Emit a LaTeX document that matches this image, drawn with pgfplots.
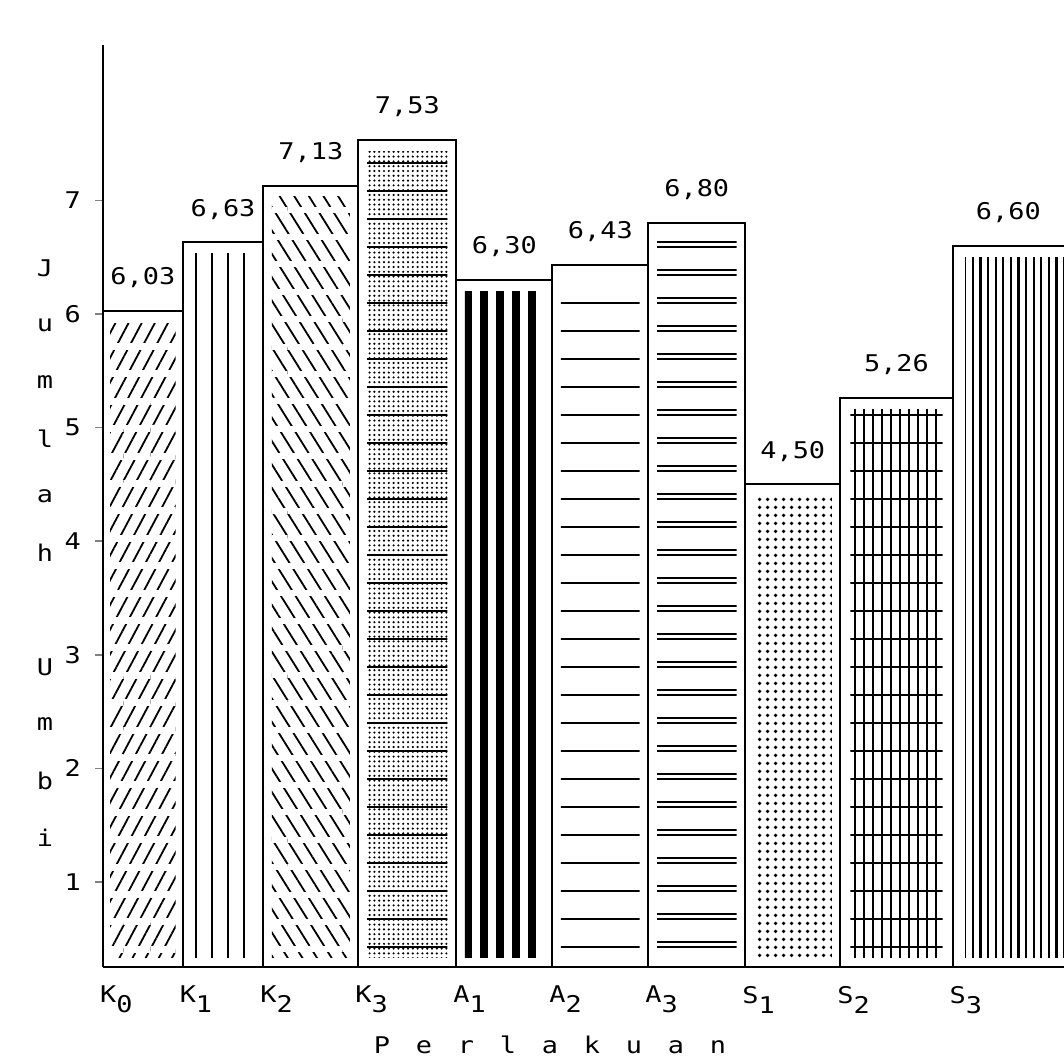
\documentclass[border=0pt]{standalone}
\usepackage{fontspec}
\setmainfont{DejaVu Sans Mono}[FakeStretch=1.17]
\usepackage{pgfplots}
\pgfplotsset{compat=1.18}
\usetikzlibrary{patterns.meta}
\newcommand{\sub}[1]{\raisebox{-5pt}{#1}}
\pgfplotsset{
  pat/.style={ybar interval, draw=none, bar interval width=0.82, bar interval shift=0.5, y filter/.expression={y-0.1}},
  outl/.style={ybar interval, draw=black, fill=none, line width=1pt},
}
\begin{document}
\begin{tikzpicture}[font=\fontsize{11.5}{13}\selectfont]
\path[use as bounding box] (0,0) rectangle (532pt,529.5pt);
\begin{axis}[
  at={(51.5pt,46pt)}, anchor=south west,
  width=480.5pt, height=461pt, scale only axis,
  xmin=0, xmax=10.01, ymin=0.252, ymax=8.368,
  axis x line=bottom, axis y line=left, axis on top,
  axis line style={-, line width=1.1pt},
  ytick={1,2,3,4,5,6,7},
  tick align=outside, major tick length=4pt,
  ytick style={line width=0.8pt},
  xtick={0,0.83,1.67,2.66,3.68,4.68,5.68,6.69,7.68,8.85},
  xticklabels={K\sub{0},K\sub{1},K\sub{2},K\sub{3},A\sub{1},A\sub{2},A\sub{3},S\sub{1},S\sub{2},S\sub{3}},
  xtick style={draw=none},
  xticklabel style={anchor=north west, xshift=-5pt, yshift=-2pt},
  yticklabel style={xshift=-3.5pt},
  /pgf/number format/assume math mode=true,
]
% ---- fill patterns (inset) ----
\addplot[pat, pattern={Lines[angle=62,distance=5.8pt,line width=0.9pt]}, postaction={pattern={Lines[angle=0,distance=13.7pt,line width=3.5pt]}, pattern color=white}] coordinates {(0,6.03) (0.83,6.03)};
\addplot[pat, pattern={Lines[angle=90,distance=8pt,line width=1pt,xshift=2pt]}] coordinates {(0.83,6.63) (1.67,6.63)};
\addplot[pat, pattern={Lines[angle=-58,distance=6.2pt,line width=0.9pt]}, postaction={pattern={Lines[angle=0,distance=13.7pt,line width=3pt]}, pattern color=white}] coordinates {(1.67,7.13) (2.66,7.13)};
\addplot[pat, pattern={Dots[distance=2.4pt,radius=0.6pt]}, postaction={pattern={Lines[angle=0,distance=14pt,line width=1.4pt]}}] coordinates {(2.66,7.53) (3.68,7.53)};
\addplot[pat, pattern={Lines[angle=90,distance=8pt,line width=4.3pt,xshift=2pt]}] coordinates {(3.68,6.30) (4.68,6.30)};
\addplot[pat, pattern={Lines[angle=0,distance=14pt,line width=0.8pt]}] coordinates {(4.68,6.43) (5.68,6.43)};
\addplot[pat, pattern={Lines[angle=0,distance=14pt,line width=0.8pt]}, postaction={pattern={Lines[angle=0,distance=14pt,line width=0.8pt,yshift=2.5pt]}}] coordinates {(5.68,6.80) (6.69,6.80)};
\addplot[pat, pattern={Dots[distance=4pt,radius=1.05pt]}] coordinates {(6.69,4.50) (7.68,4.50)};
\addplot[pat, pattern={Lines[angle=90,distance=4.5pt,line width=1.2pt]}, postaction={pattern={Lines[angle=0,distance=14pt,line width=1.1pt]}}] coordinates {(7.68,5.26) (8.85,5.26)};
\addplot[pat, pattern={Lines[angle=90,distance=3.8pt,line width=1.1pt]}] coordinates {(8.85,6.60) (10.3,6.60)};
% white margin along the base
\fill[white] (axis cs:0,0.2) rectangle (axis cs:10.5,0.33);
% ---- bar outlines ----
\addplot[outl] coordinates {(0,6.03) (0.83,6.03)};
\addplot[outl] coordinates {(0.83,6.63) (1.67,6.63)};
\addplot[outl] coordinates {(1.67,7.13) (2.66,7.13)};
\addplot[outl] coordinates {(2.66,7.53) (3.68,7.53)};
\addplot[outl] coordinates {(3.68,6.30) (4.68,6.30)};
\addplot[outl] coordinates {(4.68,6.43) (5.68,6.43)};
\addplot[outl] coordinates {(5.68,6.80) (6.69,6.80)};
\addplot[outl] coordinates {(6.69,4.50) (7.68,4.50)};
\addplot[outl] coordinates {(7.68,5.26) (8.85,5.26)};
\addplot[outl] coordinates {(8.85,6.60) (10.3,6.60)};

\node[anchor=south, yshift=8pt] at (axis cs:0.415,6.03) {6,03};
\node[anchor=south, yshift=8pt] at (axis cs:1.25,6.63) {6,63};
\node[anchor=south, yshift=8pt] at (axis cs:2.165,7.13) {7,13};
\node[anchor=south, yshift=8pt] at (axis cs:3.17,7.53) {7,53};
\node[anchor=south, yshift=8pt] at (axis cs:4.18,6.30) {6,30};
\node[anchor=south, yshift=8pt] at (axis cs:5.18,6.43) {6,43};
\node[anchor=south, yshift=8pt] at (axis cs:6.185,6.80) {6,80};
\node[anchor=south, yshift=8pt] at (axis cs:7.185,4.50) {4,50};
\node[anchor=south, yshift=8pt] at (axis cs:8.265,5.26) {5,26};
\node[anchor=south, yshift=8pt] at (axis cs:9.43,6.60) {6,60};
\end{axis}
\foreach \l [count=\i] in {J,u,m,l,a,h,{},U,m,b,i}
  \node at (22.5pt, {395.5pt - (\i-1)*28.5pt}) {\l};
\node at (275pt, 7pt) {\makebox[21pt]{P}\makebox[21pt]{e}\makebox[21pt]{r}\makebox[21pt]{l}\makebox[21pt]{a}\makebox[21pt]{k}\makebox[21pt]{u}\makebox[21pt]{a}\makebox[21pt]{n}};
\end{tikzpicture}
\end{document}
